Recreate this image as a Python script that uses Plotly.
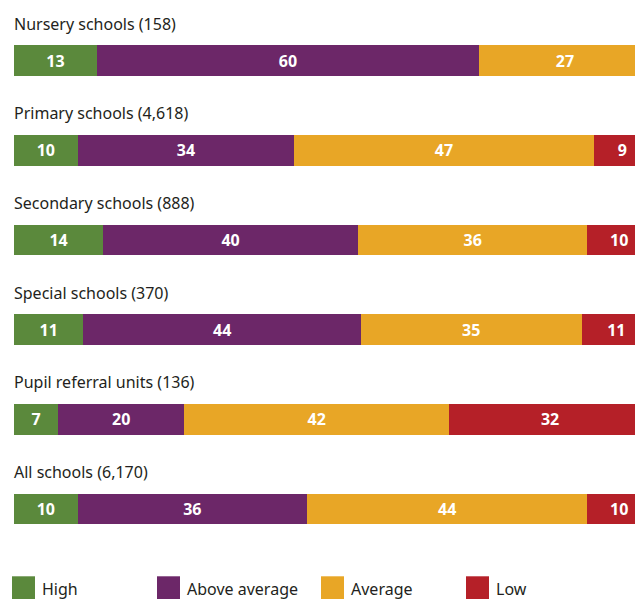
import plotly.graph_objects as go

categories = ["Nursery schools (158)", "Primary schools (4,618)", "Secondary schools (888)",
              "Special schools (370)", "Pupil referral units (136)", "All schools (6,170)"]
series_names = ["High", "Above average", "Average", "Low"]
high = [13, 10, 14, 11, 7, 10]
above_average = [60, 34, 40, 44, 20, 36]
average = [27, 47, 36, 35, 42, 44]
low = [None, 9, 10, 11, 32, 10]
colors = ["#5B893C", "#6C2768", "#E8A626", "#B52028"]

W, H = 635, 599
ml, mr, mt, mb = 14, 0, 15.5, 40.3
pw, ph = W - ml - mr, H - mt - mb

FONT = "Noto Sans"
fig = go.Figure()
for name, vals, col in zip(series_names, [high, above_average, average, low], colors):
    fig.add_trace(go.Bar(
        y=categories, x=vals, name=name, orientation="h",
        marker=dict(color=col, line=dict(width=0)),
        text=[("" if v is None else str(v)) for v in vals],
        textposition="inside", insidetextanchor="middle",
        textfont=dict(family=FONT, size=16, color="white", weight="bold"),
        textangle=0, constraintext="none",
        cliponaxis=True, showlegend=False,
    ))

annotations = []
for c in categories:
    annotations.append(dict(
        x=0, xref="paper", y=c, yref="y", yshift=37, xshift=-2, xanchor="left", yanchor="middle",
        text=c, showarrow=False, font=dict(family=FONT, size=16, color="#231F20"),
    ))

shapes = []
legend_px = [12, 157, 321, 466]
sq = 23
y_top_px, y_bot_px = 576, 599
def px_to_paper_x(px):
    return (px - ml) / pw
def px_to_paper_y(py):
    return (H - mb - py) / ph
for name, col, lx in zip(series_names, colors, legend_px):
    shapes.append(dict(type="rect", xref="paper", yref="paper",
                       x0=px_to_paper_x(lx), x1=px_to_paper_x(lx + sq),
                       y0=px_to_paper_y(y_bot_px), y1=px_to_paper_y(y_top_px),
                       fillcolor=col, line=dict(width=0), layer="above"))
    annotations.append(dict(
        x=px_to_paper_x(lx + sq + 5), xref="paper", y=px_to_paper_y(588.5), yref="paper",
        xanchor="left", yanchor="middle", text=name, showarrow=False,
        font=dict(family=FONT, size=16, color="#231F20"),
    ))

fig.update_layout(
    width=W, height=H, barmode="stack", barnorm="percent", bargap=0.6576,
    margin=dict(l=ml, r=mr, t=mt, b=mb, pad=0),
    paper_bgcolor="white", plot_bgcolor="white",
    xaxis=dict(range=[0, 100 * pw / 637], visible=False, fixedrange=True),
    yaxis=dict(autorange="reversed", visible=False, fixedrange=True),
    annotations=annotations, shapes=shapes,
    uniformtext=dict(mode=False),
)
fig.write_html(
    "out.html",
    config={"displayModeBar": False},
    post_script="document.body.style.margin='0';document.body.style.overflow='hidden';",
)
